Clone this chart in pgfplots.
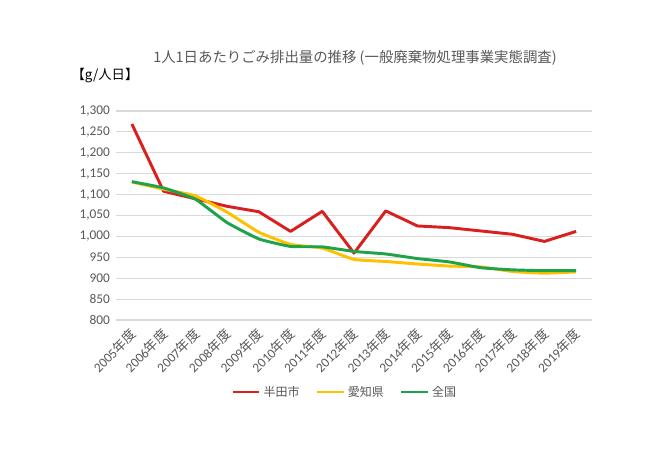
\documentclass[border=0pt]{standalone}
\usepackage{fontspec}
\setmainfont{Carlito}
\newfontfamily\cjk{Noto Sans CJK JP}
\usepackage{pgfplots}
\pgfplotsset{compat=1.18}
\definecolor{cred}{HTML}{D9201F}
\definecolor{cyel}{HTML}{FFC000}
\definecolor{cgrn}{HTML}{1FA34A}
\definecolor{cgrid}{HTML}{D9D9D9}
\definecolor{ctext}{HTML}{595959}
\begin{document}
\begin{tikzpicture}
\useasboundingbox[fill=white] (-87pt,-102.75pt) rectangle (396.75pt,240pt);
\begin{axis}[
  at={(0,0)}, anchor=south west,
  scale only axis, width=357pt, height=156.75pt,
  xmin=-0.5, xmax=14.5, ymin=800, ymax=1300,
  ytick={800,850,...,1300},
  xtick={0,...,14},
  xticklabels={2005{\cjk 年度},2006{\cjk 年度},2007{\cjk 年度},2008{\cjk 年度},2009{\cjk 年度},2010{\cjk 年度},2011{\cjk 年度},2012{\cjk 年度},2013{\cjk 年度},2014{\cjk 年度},2015{\cjk 年度},2016{\cjk 年度},2017{\cjk 年度},2018{\cjk 年度},2019{\cjk 年度}},
  xticklabel style={xshift=2pt, yshift=-8pt, rotate=45, anchor=east, font=\fontsize{10}{11}\selectfont, text=ctext, inner sep=1pt},
  yticklabel style={font=\fontsize{10}{11}\selectfont, text=ctext, xshift=-1pt},
  /pgf/number format/assume math mode=true,
  /pgf/number format/1000 sep={,},
  axis line style={draw=none},
  tick style={draw=none},
  ymajorgrids, grid style={cgrid, line width=0.8pt},
  legend style={at={(171.75pt,-54pt)}, anchor=center, draw=none, legend columns=3, font=\fontsize{9}{10}\selectfont\cjk, text=ctext, /tikz/every even column/.append style={column sep=10pt}, /tikz/every odd column/.append style={column sep=0pt}},
  legend image code/.code={\draw[#1] (0pt,0pt) -- (20pt,0pt);},
  legend cell align=left,
  clip=false,
]
\addplot[cred, line width=2.2pt, line join=round] coordinates {
(0,1269) (1,1108) (2,1090) (3,1072) (4,1059) (5,1012) (6,1060) (7,960) (8,1061) (9,1025) (10,1021) (11,1013) (12,1005) (13,988) (14,1012)};
\addlegendentry{半田市}
\addplot[cyel, line width=2.2pt, smooth, tension=0.25] coordinates {
(0,1130) (1,1113) (2,1097) (3,1058) (4,1010) (5,981) (6,972) (7,945) (8,940) (9,934) (10,929) (11,927) (12,916) (13,912) (14,915)};
\addlegendentry{愛知県}
\addplot[cgrn, line width=2.2pt, smooth, tension=0.25] coordinates {
(0,1131) (1,1116) (2,1089) (3,1033) (4,994) (5,976) (6,975) (7,964) (8,958) (9,947) (10,939) (11,925) (12,920) (13,918) (14,918)};
\addlegendentry{全国}
\end{axis}
\node[text=ctext, font=\fontsize{10.8}{12}\selectfont\cjk] at (179.25pt,196.5pt) {1人1日あたりごみ排出量の推移 (一般廃棄物処理事業実態調査)};
\node[text=black, font=\fontsize{10}{12}\selectfont\cjk] at (-8.25pt,183.5pt) {【g/人日】};
\end{tikzpicture}
\end{document}
